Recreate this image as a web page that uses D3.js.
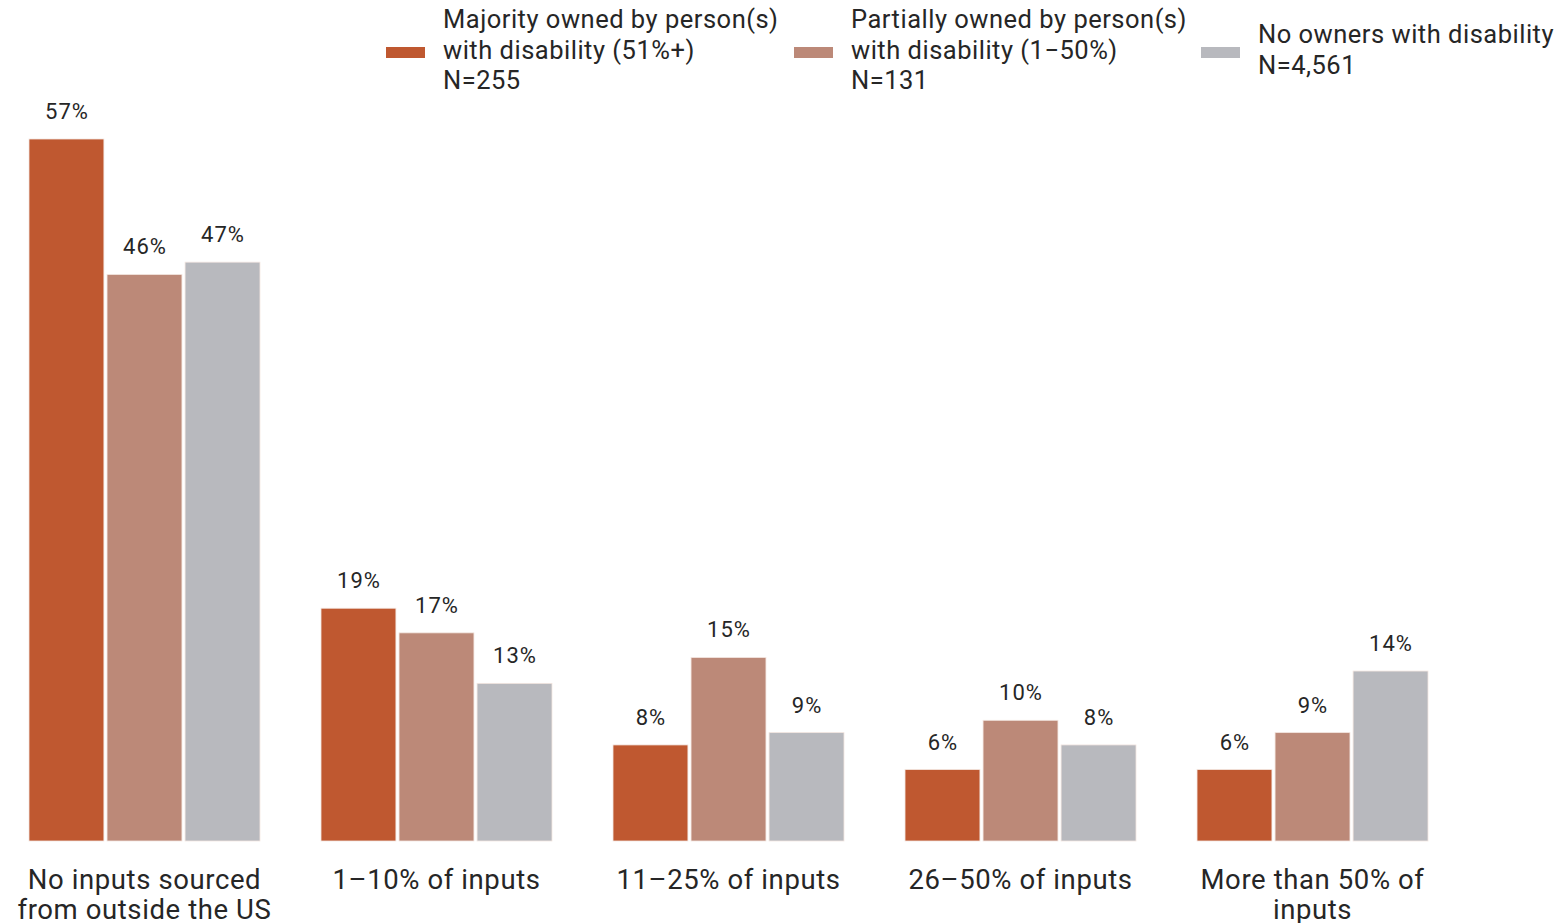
<!DOCTYPE html>
<html>
<head>
<meta charset="utf-8">
<script src="https://cdn.jsdelivr.net/npm/d3@7"></script>
<style>
  html, body { margin: 0; padding: 0; background: #fff; }
  svg { display: block; font-family: Roboto, "Noto Sans", sans-serif; }
</style>
</head>
<body>
<svg id="chart" width="1563" height="923"></svg>
<script>
const categories = [
  ["No inputs sourced", "from outside the US"],
  ["1\u201310% of inputs"],
  ["11\u201325% of inputs"],
  ["26\u201350% of inputs"],
  ["More than 50% of", "inputs"]
];
const seriesNames = ["majority", "partial", "none"];
const legendLabels = [
  ["Majority owned by person(s)", "with disability (51%+)", "N=255"],
  ["Partially owned by person(s)", "with disability (1\u221250%)", "N=131"],
  ["No owners with disability", "N=4,561"]
];
const majorityValues = [57, 18.9, 7.8, 5.8, 5.8];
const partialValues  = [46, 16.9, 14.9, 9.8, 8.8];
const noneValues     = [47, 12.8, 8.8, 7.8, 13.8];
const valueLabels = [
  ["57%", "46%", "47%"],
  ["19%", "17%", "13%"],
  ["8%", "15%", "9%"],
  ["6%", "10%", "8%"],
  ["6%", "9%", "14%"]
];
const colors = ["#BF5830", "#BC8978", "#B8B9BE"];

const svg = d3.select("#chart");
const textColor = "#262626";

const x0 = d3.scaleBand()
  .domain(d3.range(categories.length))
  .range([29, 1428])
  .paddingInner(0.209)
  .paddingOuter(0);

const x1 = d3.scaleBand()
  .domain(seriesNames)
  .range([0, x0.bandwidth()])
  .paddingInner(0.04);

const y = d3.scaleLinear().domain([0, 57]).range([841, 139]);

const color = d3.scaleOrdinal().domain(seriesNames).range(colors);

const allValues = [majorityValues, partialValues, noneValues];
const data = categories.map((c, i) => ({
  i,
  values: seriesNames.map((s, j) => ({ key: s, j, value: allValues[j][i], label: valueLabels[i][j] }))
}));

const groups = svg.append("g").selectAll("g")
  .data(data).join("g")
  .attr("transform", d => `translate(${x0(d.i)},0)`);

groups.selectAll("rect")
  .data(d => d.values).join("rect")
  .attr("x", d => x1(d.key))
  .attr("y", d => y(d.value))
  .attr("width", x1.bandwidth())
  .attr("height", d => y(0) - y(d.value))
  .attr("fill", d => color(d.key))
  .attr("stroke", "#f3e6e0")
  .attr("stroke-width", 0.8);

groups.selectAll("text.val")
  .data(d => d.values).join("text")
  .attr("class", "val")
  .attr("x", d => x1(d.key) + x1.bandwidth() / 2 + 0.5)
  .attr("y", d => y(d.value) - 20)
  .attr("text-anchor", "middle")
  .attr("font-size", 22)
  .attr("letter-spacing", 1)
  .attr("fill", textColor)
  .text(d => d.label);

// category axis labels
const catG = svg.append("g");
categories.forEach((lines, i) => {
  const cx = x0(i) + x0.bandwidth() / 2;
  const t = catG.append("text")
    .attr("x", cx)
    .attr("y", 889)
    .attr("text-anchor", "middle")
    .attr("font-size", 27.5)
    .attr("letter-spacing", 0.6)
    .attr("fill", textColor);
  lines.forEach((ln, k) => {
    t.append("tspan")
      .attr("x", cx)
      .attr("dy", k === 0 ? 0 : 30)
      .text(ln);
  });
});

// legend
const legendX = [386, 794, 1201];
const legend = svg.append("g");
legendLabels.forEach((lines, j) => {
  const g = legend.append("g");
  g.append("rect")
    .attr("x", legendX[j])
    .attr("y", 47)
    .attr("width", 39)
    .attr("height", 11)
    .attr("fill", colors[j]);
  const lineH = 30.5;
  const centerY = 52;
  const firstBaseline = centerY - (lines.length - 1) * lineH / 2 + 6.5;
  const t = g.append("text")
    .attr("x", legendX[j] + 57)
    .attr("y", firstBaseline)
    .attr("font-size", 25.5)
    .attr("letter-spacing", 0.5)
    .attr("fill", textColor);
  lines.forEach((ln, k) => {
    t.append("tspan")
      .attr("x", legendX[j] + 57)
      .attr("dy", k === 0 ? 0 : lineH)
      .text(ln);
  });
});
</script>
</body>
</html>
